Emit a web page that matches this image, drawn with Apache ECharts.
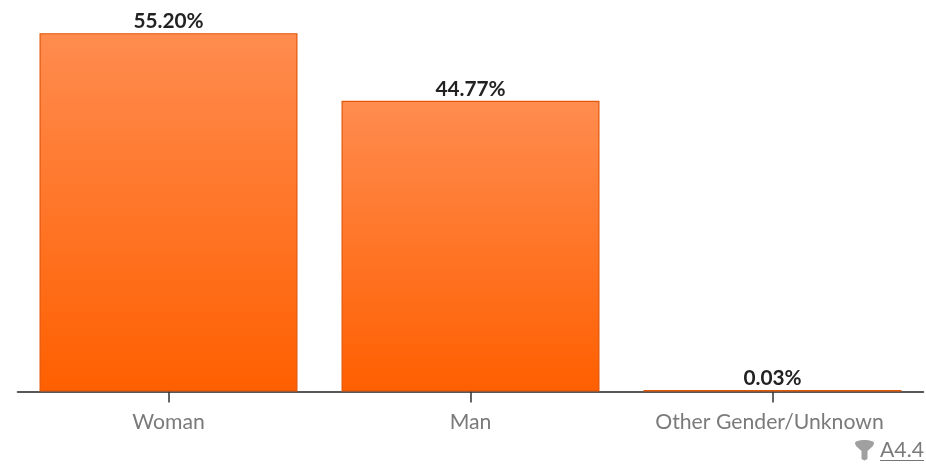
<!DOCTYPE html>
<html><head><meta charset="utf-8">
<style>html,body{margin:0;padding:0;background:#fff}#c{width:926px;height:464px}</style>
<script src="https://cdn.jsdelivr.net/npm/echarts@6/dist/echarts.min.js"></script>
</head><body><div id="c"></div>
<script>
const categories = ["Woman", "Man", "Other Gender/Unknown"];
const shares = [55.20, 44.77, 0.03];
const chart = echarts.init(document.getElementById('c'), null, {renderer:'canvas'});
chart.setOption({
  animation:false,
  backgroundColor:'#fff',
  grid:{left:17.5,right:2.5,top:2,height:389.5,containLabel:false},
  xAxis:{type:'category',data:categories,
    axisLine:{show:true,lineStyle:{color:'#222',width:1.5}},
    axisTick:{show:true,alignWithLabel:true,interval:0,length:11,lineStyle:{color:'#333',width:1.5}},
    axisLabel:{interval:0,color:'#7a7a7a',fontFamily:'Lato',fontSize:21.2,margin:20,
      formatter:(v,i)=>i===2?'{shift|'+v+'}':v,
      rich:{shift:{color:'#7a7a7a',fontFamily:'Lato',fontSize:21.2,padding:[0,6,0,0]}}}},
  yAxis:{type:'value',min:0,max:60,show:false,splitLine:{show:false}},
  series:[{type:'bar',data:shares,barWidth:258,barMinHeight:1.5,
    itemStyle:{borderColor:'#e2560a',borderWidth:1.2,
      color:new echarts.graphic.LinearGradient(0,0,0,1,[{offset:0,color:'#ff8c4f'},{offset:1,color:'#ff5f00'}],false)},
    label:{show:true,position:'top',distance:1,color:'#222',fontFamily:'Lato',fontWeight:'bold',fontSize:20.8,
      formatter:p=>p.value.toFixed(2)+'%'}}],
  graphic:[
    {type:'ellipse',shape:{cx:864.5,cy:443,rx:9.5,ry:3},style:{fill:'#a0a0a0'}},
    {type:'polygon',shape:{points:[[855,443],[874,443],[873,446],[867.5,451],[867.5,459],[864.5,460.5],[861.5,459],[861.5,451],[856,446]]},style:{fill:'#a0a0a0'}},
    {type:'text',left:880,top:440,style:{text:'A4.4',fill:'#7a7a7a',font:'21.2px Lato'}},
    {type:'line',shape:{x1:880,y1:460.5,x2:924,y2:460.5},style:{stroke:'#757575',lineWidth:1}}
  ]
});
</script></body></html>
